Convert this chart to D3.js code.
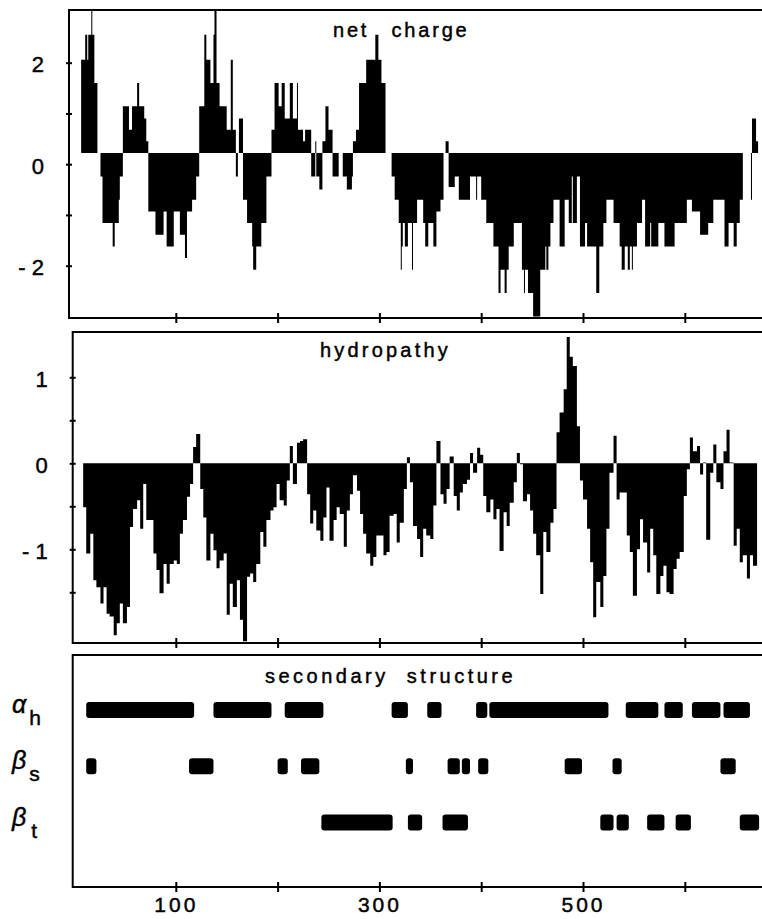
<!DOCTYPE html>
<html>
<head>
<meta charset="utf-8">
<script src="https://cdn.jsdelivr.net/npm/d3@7.9.0/dist/d3.min.js"></script>
<style>
  body { margin: 0; background: #fff; }
  svg { display: block; }
  text { font-family: "Liberation Sans", Arial, sans-serif; fill: #000; stroke: #000; stroke-width: 0.45px; }
</style>
</head>
<body>
<div id="chart"></div>
<script>
// residue axis
const residueTicks = [100, 200, 300, 400, 500, 600];
const residueLabels = [100, 300, 500];

// net charge: [start residue, value], each value holds until the next start
const chargeTicks = [-2, -1, 0, 1, 2];
const chargeLabels = [-2, 0, 2];
const chargeBase = 0.22;
const charge = [
  [7, 2.06], [11, 2.55], [13, 2.06], [14, 2.55], [17, 3.04], [18, 2.55], [20, 1.6], [23, 0.22],
  [26, -0.24], [28, -1.16], [38, -1.62], [40, -1.16], [44, -0.7], [45, -0.24],
  [48, 1.14], [54, 0.68], [57, 1.14], [62, 1.6], [64, 1.14], [69, 0.9], [71, 0.45],
  [73, -0.93], [80, -1.39], [88, -0.93], [91, -1.62], [98, -0.93], [104, -1.39], [109, -1.85],
  [111, -0.93], [116, -0.7], [120, -0.24],
  [123, 1.14], [128, 2.55], [130, 2.06], [134, 1.6], [137, 2.55], [138, 3.04], [140, 1.6],
  [143, 1.14], [150, 0.68], [154, 2.06], [156, 0.68], [159, -0.24], [161, 0.22], [162, 0.9],
  [166, -0.7], [170, -1.16], [175, -1.62], [176, -2.08], [179, -1.62], [184, -1.16], [189, -0.24],
  [194, 0.68], [197, 1.6], [201, 1.14], [204, 1.6], [207, 0.9], [212, 1.6], [215, 0.9], [219, 1.6],
  [220, 0.68], [225, 0.45], [227, 0.68], [233, -0.24], [237, 0.45], [238, -0.24], [241, -0.5],
  [244, 0.45], [247, 1.14], [250, 0.68], [254, -0.24], [260, 0.22], [264, -0.24], [268, -0.5],
  [273, -0.24], [274, 0.45], [277, 0.68], [280, 1.6], [287, 2.06], [296, 2.55], [299, 2.06],
  [302, 1.6], [306, 0.22],
  [312, -0.24], [315, -0.7], [319, -1.16], [321, -2.08], [322, -1.62], [323, -1.16], [325, -1.62],
  [328, -1.16], [332, -2.08], [333, -1.16], [337, -0.7], [343, -1.16], [345, -1.62], [348, -1.16],
  [353, -1.62], [356, -0.93], [360, -0.7], [363, 0.22], [365, 0.45], [368, -0.45], [374, -0.24],
  [378, -0.7], [389, -0.24], [395, -0.7], [396, -0.24], [400, -0.7], [405, -1.16], [412, -1.62],
  [417, -2.54], [419, -2.08], [423, -2.54], [425, -2.08], [427, -1.62], [432, -1.16], [440, -2.08],
  [442, -2.54], [443, -2.08], [446, -2.54], [451, -3.0], [458, -2.08], [463, -1.62], [464, -2.08],
  [466, -1.62], [468, -1.16], [471, -0.7], [477, -1.62], [482, -0.7], [486, -1.16], [489, -0.24],
  [490, -1.16], [494, -0.24], [497, -1.62], [502, -1.16], [504, -1.62], [513, -2.54], [516, -1.62],
  [520, -1.16], [523, -0.7], [530, -1.16], [536, -1.62], [538, -2.08], [541, -1.62], [544, -2.08],
  [546, -1.62], [548, -2.08], [549, -1.62], [553, -1.16], [558, -0.7], [561, -1.62], [566, -1.16],
  [567, -1.62], [574, -1.16], [580, -1.62], [590, -1.16], [602, -0.7], [607, -0.93], [615, -1.39],
  [623, -1.16], [628, -0.7], [639, -1.62], [643, -1.16], [648, -1.62], [651, -1.16], [654, -0.7],
  [657, 0.22], [665, -0.7], [666, 0.9], [670, 0.45], [672, 0.22]
];

// hydropathy: [start residue, value]
const hydroTicks = [-1.5, -1, -0.5, 0, 0.5, 1];
const hydroLabels = [-1, 0, 1];
const hydropathy = [
  [9, -0.51], [12, -1.05], [16, -0.82], [19, -1.36], [22, -1.44], [26, -1.63], [29, -1.44],
  [32, -1.75], [35, -1.78], [39, -2.0], [42, -1.86], [45, -1.63], [48, -1.86], [52, -1.67],
  [55, -0.74], [58, -0.53], [62, -0.43], [65, -0.76], [68, -0.24], [71, -0.66], [75, -0.66],
  [78, -1.05], [81, -1.24], [84, -1.51], [88, -1.17], [91, -1.4], [94, -1.17], [98, -1.13],
  [101, -1.17], [104, -0.82], [107, -0.66], [111, -0.39], [114, -0.24], [117, 0.19], [120, 0.34],
  [124, -0.3], [127, -0.63], [130, -1.13], [134, -0.82], [137, -1.01], [140, -1.22], [143, -1.13],
  [147, -1.05], [150, -1.76], [153, -1.4], [156, -1.67], [160, -1.36], [163, -1.82], [166, -2.07],
  [170, -1.32], [173, -1.28], [176, -1.38], [179, -1.17], [183, -0.8], [186, -0.97], [189, -0.66],
  [193, -0.55], [196, -0.51], [199, -0.24], [202, -0.43], [206, -0.49], [209, -0.2], [212, 0.2],
  [215, -0.24], [219, 0.24], [222, 0.26], [225, 0.28], [229, -0.36], [232, -0.7], [235, -0.55],
  [238, -0.78], [242, -0.9], [245, -0.63], [248, -0.28], [251, -0.9], [255, -0.66], [258, -0.51],
  [261, -0.59], [265, -0.97], [268, -0.55], [271, -0.36], [274, -0.14], [278, -0.32], [281, -0.59],
  [284, -0.82], [287, -1.05], [291, -1.19], [294, -1.09], [297, -0.84], [301, -0.84], [304, -1.07],
  [307, -1.03], [310, -0.61], [314, -0.59], [317, -0.92], [320, -0.69], [324, -0.3], [327, 0.07],
  [330, -0.22], [333, -0.73], [337, -0.88], [340, -1.09], [343, -0.76], [346, -0.84], [350, -0.88],
  [353, -0.49], [356, 0.26], [360, -0.36], [363, -0.47], [366, -0.3], [369, 0.08], [373, -0.38],
  [376, -0.55], [379, -0.34], [382, -0.24], [386, -0.19], [389, 0.12], [392, -0.11], [396, 0.18],
  [399, 0.1], [402, -0.38], [405, -0.57], [409, -0.42], [412, -0.65], [415, -0.53], [418, -1.02],
  [422, -0.57], [425, -0.73], [428, -0.46], [432, -0.22], [435, 0.12], [438, -0.01], [441, -0.44],
  [445, -0.36], [448, -0.55], [451, -0.82], [454, -1.07], [458, -1.52], [461, -0.8], [464, -1.03],
  [468, -0.69], [471, -0.53], [474, 0.36], [477, 0.59], [481, 0.86], [484, 1.47], [487, 1.24],
  [490, 1.13], [494, 0.43], [497, -0.2], [500, -0.42], [504, -0.76], [507, -1.15], [510, -1.79],
  [513, -1.38], [517, -1.67], [520, -1.31], [523, -0.76], [526, -0.11], [530, 0.32], [533, -0.42],
  [536, -0.34], [540, -0.34], [543, -0.84], [546, -1.03], [549, -1.54], [553, -1.0], [556, -0.65],
  [559, -0.92], [563, -1.27], [566, -0.76], [569, -1.07], [572, -1.52], [576, -1.31], [579, -1.19],
  [582, -1.5], [585, -1.52], [589, -1.23], [592, -1.11], [595, -1.03], [599, -0.38], [602, -0.07],
  [605, 0.3], [608, 0.14], [612, 0.2], [615, -0.13], [618, 0.01], [621, -0.89], [625, -0.11],
  [628, 0.22], [631, -0.22], [635, -0.3], [638, 0.14], [641, 0.39], [644, 0.01], [648, -0.96],
  [651, -0.76], [654, -1.15], [657, -1.07], [661, -1.34], [664, -1.07], [667, -1.19], [671, 0]
];

// secondary structure segments: [first residue, last residue]
const helix = [[12, 118], [137, 194], [207, 245], [312, 328], [347, 361], [395, 406], [408, 525],
  [542, 574], [580, 598], [607, 635], [638, 664]];
const sheet = [[12, 22], [113, 137], [200, 210], [223, 241], [326, 333], [367, 379], [381, 389],
  [397, 407], [482, 499], [529, 538], [635, 650]];
const turn = [[243, 313], [328, 342], [362, 387], [517, 530], [533, 545], [563, 580], [591, 606],
  [654, 673]];

const width = 762;
const height = 919;

const svg = d3.select('#chart')
  .append('svg')
  .attr('width', width)
  .attr('height', height);

const x = d3.scaleLinear().domain([0, 600]).range([74, 684.8]);
const right = 772;

const fmt = d => d < 0 ? '- ' + Math.abs(d) : String(d);

// panel frame + bottom residue ticks
function frame(left, top, bottom) {
  svg.append('rect')
    .attr('x', left).attr('y', top)
    .attr('width', right - left).attr('height', bottom - top)
    .attr('fill', 'none')
    .attr('stroke', '#000')
    .attr('stroke-width', 2);

  svg.append('g')
    .attr('transform', `translate(0, ${bottom - 5})`)
    .call(d3.axisBottom(x).tickValues(residueTicks).tickSize(10).tickFormat(''))
    .call(g => g.select('.domain').remove())
    .call(g => g.selectAll('line').attr('stroke-width', 2));
}

function yAxis(left, y, ticks, labels) {
  svg.append('g')
    .attr('transform', `translate(${left + 3}, 0)`)
    .call(d3.axisLeft(y).tickValues(ticks).tickSize(6).tickPadding(22)
      .tickFormat(d => labels.includes(d) ? fmt(d) : ''))
    .call(g => g.select('.domain').remove())
    .call(g => g.selectAll('line').attr('stroke-width', 2))
    .call(g => g.selectAll('text')
      .attr('font-size', 22)
      .attr('font-family', '"Liberation Sans", Arial, sans-serif')
      .attr('fill', '#000')
      .attr('dy', '0.4em'));
}

function profile(data, y, base) {
  const area = d3.area()
    .curve(d3.curveStepAfter)
    .x(d => x(d[0]))
    .y0(y(base))
    .y1(d => y(d[1]));
  svg.append('path')
    .attr('d', area(data))
    .attr('fill', '#000');
}

function title(text, left, baseline, spacing, wordSpacing) {
  svg.append('text')
    .attr('x', left).attr('y', baseline)
    .attr('font-size', 20)
    .attr('letter-spacing', spacing)
    .attr('word-spacing', wordSpacing)
    .text(text);
}

// net charge panel
const yCharge = d3.scaleLinear().domain([-2, 2]).range([265.7, 62.7]);
profile(charge, yCharge, chargeBase);
frame(69, 10, 318);
yAxis(69, yCharge, chargeTicks, chargeLabels);
title('net charge', 333, 37, 2.8, 14);

// hydropathy panel
const yHydro = d3.scaleLinear().domain([-1, 1]).range([549.3, 377.3]);
profile(hydropathy, yHydro, 0);
frame(72.7, 332, 643);
yAxis(72.7, yHydro, hydroTicks, hydroLabels);
title('hydropathy', 320, 357, 3.2, 0);

// secondary structure panel
frame(72.7, 655, 887);
title('secondary structure', 265, 683, 3.5, 9);

const rows = [
  { name: 'h', symbol: 'α', segs: helix },
  { name: 's', symbol: 'β', segs: sheet },
  { name: 't', symbol: 'β', segs: turn }
];
const yRow = d3.scalePoint().domain(rows.map(r => r.name)).range([710, 822.5]);
const barH = 16;

rows.forEach(r => {
  svg.append('g')
    .selectAll('rect')
    .data(r.segs)
    .join('rect')
    .attr('x', d => x(d[0]))
    .attr('width', d => x(d[1]) - x(d[0]))
    .attr('y', yRow(r.name) - barH / 2)
    .attr('height', barH)
    .attr('rx', 3)
    .attr('fill', '#000');

  const lab = svg.append('text')
    .attr('x', 12)
    .attr('y', yRow(r.name) + 3);
  lab.append('tspan')
    .attr('font-size', 25)
    .attr('font-style', 'italic')
    .text(r.symbol);
  lab.append('tspan')
    .attr('font-size', 21)
    .attr('dx', r.name === 't' ? 5 : 3)
    .attr('dy', 12)
    .text(r.name);
});

// residue labels under the bottom panel
svg.append('g')
  .attr('transform', `translate(0, 887)`)
  .call(d3.axisBottom(x).tickValues(residueLabels).tickSize(0).tickPadding(10))
  .call(g => g.select('.domain').remove())
  .call(g => g.selectAll('text')
    .attr('font-size', 21)
    .attr('letter-spacing', 3)
    .attr('fill', '#000')
    .attr('font-family', '"Liberation Sans", Arial, sans-serif'));
</script>
</body>
</html>
